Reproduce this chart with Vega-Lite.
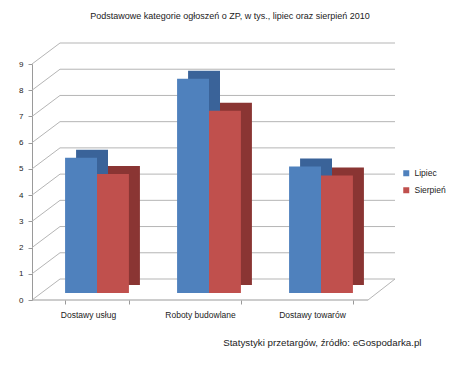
{
  "$schema": "https://vega.github.io/schema/vega-lite/v6.json",
  "width": 336,
  "height": 236,
  "autosize": {"type": "none"},
  "padding": {"left": 41, "top": 57, "right": 83, "bottom": 73},
  "background": "white",
  "config": {"view": {"stroke": null}},
  "title": {
    "text": "Podstawowe kategorie ogłoszeń o ZP, w tys., lipiec oraz sierpień 2010",
    "font": "Liberation Sans",
    "fontSize": 9,
    "fontWeight": "normal",
    "color": "#222222",
    "anchor": "middle",
    "dx": 21,
    "offset": 22
  },
  "datasets": {
    "slupki": [
      {"kategoria": "Dostawy usług", "miesiac": "Lipiec", "wartosc": 5.16},
      {"kategoria": "Dostawy usług", "miesiac": "Sierpień", "wartosc": 4.54},
      {"kategoria": "Roboty budowlane", "miesiac": "Lipiec", "wartosc": 8.17},
      {"kategoria": "Roboty budowlane", "miesiac": "Sierpień", "wartosc": 6.95},
      {"kategoria": "Dostawy towarów", "miesiac": "Lipiec", "wartosc": 4.82},
      {"kategoria": "Dostawy towarów", "miesiac": "Sierpień", "wartosc": 4.48}
    ],
    "siatka": [
      {"wartosc": 0}, {"wartosc": 1}, {"wartosc": 2}, {"wartosc": 3}, {"wartosc": 4},
      {"wartosc": 5}, {"wartosc": 6}, {"wartosc": 7}, {"wartosc": 8}, {"wartosc": 9}
    ]
  },
  "encoding": {
    "y": {
      "field": "wartosc",
      "type": "quantitative",
      "scale": {"domain": [0, 9], "nice": false},
      "axis": {
        "orient": "left",
        "grid": false,
        "values": [0, 1, 2, 3, 4, 5, 6, 7, 8, 9],
        "labelOverlap": false,
        "translate": 7.5,
        "offset": 16,
        "tickSize": 4,
        "tickColor": "#9a9a9a",
        "domainColor": "#9a9a9a",
        "labelFont": "Liberation Sans",
        "labelFontSize": 8,
        "labelColor": "#222222",
        "labelPadding": 5,
        "title": null
      }
    }
  },
  "layer": [
    {
      "data": {"name": "siatka"},
      "mark": {"type": "rule", "color": "#b5b5b5", "strokeWidth": 1, "xOffset": 19, "x2Offset": 18, "yOffset": -14, "y2Offset": -14},
      "encoding": {
        "x": {"value": 0},
        "x2": {"value": "width"}
      }
    },
    {
      "data": {"name": "siatka"},
      "mark": {"type": "rule", "color": "#b5b5b5", "strokeWidth": 1, "xOffset": -9, "x2Offset": 19, "yOffset": 7, "y2Offset": -14},
      "encoding": {
        "x": {"value": 0},
        "x2": {"value": 0},
        "y2": {"field": "wartosc"}
      }
    },
    {
      "data": {"name": "siatka"},
      "transform": [{"filter": "datum.wartosc == 0"}],
      "mark": {"type": "rule", "color": "#9a9a9a", "strokeWidth": 1, "xOffset": -9, "x2Offset": -9, "yOffset": 7, "y2Offset": 7},
      "encoding": {
        "x": {"value": 0},
        "x2": {"value": "width"}
      }
    },
    {
      "data": {"name": "siatka"},
      "transform": [{"filter": "datum.wartosc == 0"}],
      "mark": {"type": "rule", "color": "#b5b5b5", "strokeWidth": 1, "xOffset": -9, "x2Offset": 18, "yOffset": 7, "y2Offset": -14},
      "encoding": {
        "x": {"value": "width"},
        "x2": {"value": "width"},
        "y2": {"field": "wartosc"}
      }
    },
    {
      "data": {"name": "slupki"},
      "mark": {"type": "bar", "yOffset": -8, "y2Offset": -8},
      "encoding": {
        "x": {
          "field": "kategoria",
          "type": "nominal",
          "sort": ["Dostawy usług", "Roboty budowlane", "Dostawy towarów"],
          "scale": {"paddingInner": 0.43, "paddingOuter": 0.215, "range": [11, 347]},
          "axis": null
        },
        "xOffset": {"field": "miesiac", "type": "nominal", "sort": ["Lipiec", "Sierpień"]},
        "color": {
          "field": "miesiac",
          "type": "nominal",
          "sort": ["Lipiec", "Sierpień"],
          "scale": {"range": ["#3a6399", "#8a3533"]},
          "legend": null
        }
      }
    },
    {
      "data": {"name": "slupki"},
      "mark": {"type": "bar"},
      "encoding": {
        "x": {
          "field": "kategoria",
          "type": "nominal",
          "sort": ["Dostawy usług", "Roboty budowlane", "Dostawy towarów"],
          "scale": {"paddingInner": 0.43, "paddingOuter": 0.215},
          "axis": {
            "offset": 7,
            "labelAngle": 0,
            "tickBand": "extent",
            "tickOffset": -9,
            "labelOffset": -9,
            "tickSize": 4,
            "domain": false,
            "tickColor": "#9a9a9a",
            "labelFont": "Liberation Sans",
            "labelFontSize": 8.5,
            "labelColor": "#222222",
            "labelPadding": 6,
            "title": "Statystyki przetargów, źródło: eGospodarka.pl",
            "titleFont": "Liberation Sans",
            "titleFontSize": 9.75,
            "titleFontWeight": "normal",
            "titleColor": "#222222",
            "titleAlign": "right",
            "titleBaseline": "middle",
            "titleAnchor": null,
            "titleX": 380,
            "titleY": 42
          }
        },
        "xOffset": {"field": "miesiac", "type": "nominal", "sort": ["Lipiec", "Sierpień"]},
        "color": {
          "field": "miesiac",
          "type": "nominal",
          "sort": ["Lipiec", "Sierpień"],
          "scale": {"range": ["#4f81bd", "#c0504d"]},
          "legend": {
            "orient": "none",
            "legendX": 361,
            "legendY": 112,
            "title": null,
            "symbolType": "square",
            "symbolSize": 36,
            "symbolStrokeWidth": 0,
            "labelFont": "Liberation Sans",
            "labelFontSize": 8.5,
            "labelColor": "#222222",
            "rowPadding": 8
          }
        }
      }
    }
  ],
  "resolve": {"scale": {"x": "independent", "xOffset": "independent", "color": "independent"}}
}
